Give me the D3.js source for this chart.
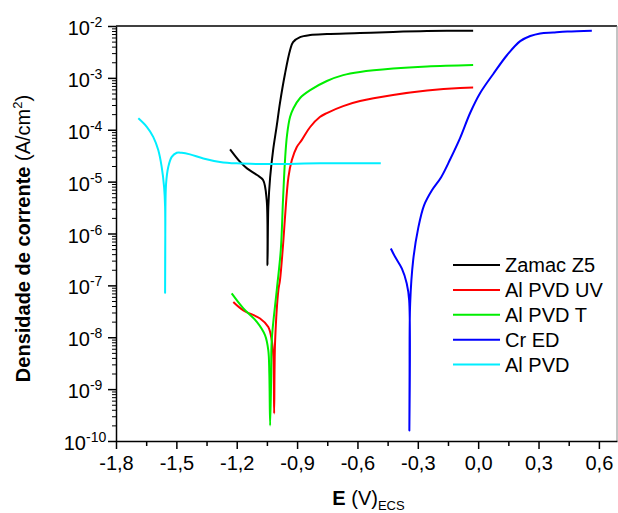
<!DOCTYPE html>
<html>
<head>
<meta charset="utf-8">
<script src="https://cdn.jsdelivr.net/npm/d3@7"></script>
<style>
  body { margin: 0; background: #fff; }
  svg { font-family: "Liberation Sans", Arial, sans-serif; }
</style>
</head>
<body>
<div id="chart"></div>
<script>
// Potential (V vs ECS) and current density (A/cm2)
const zamacE = [-1.233, -1.183, -1.149, -1.099, -1.069, -1.051, -1.047, -1.043, -1.034, -1.019, -1.001, -0.985, -0.960, -0.935, -0.920, -0.885, -0.835, -0.751, -0.587, -0.423, -0.254, -0.025];
const zamacI = [4.2e-5, 2.4e-5, 1.8e-5, 1.34e-5, 1.07e-5, 4.4e-6, 2.45e-7, 3.2e-6, 1.2e-5, 4.1e-5, 1.2e-4, 3.3e-4, 1.2e-3, 3.4e-3, 4.9e-3, 6.1e-3, 6.7e-3, 7.0e-3, 7.3e-3, 7.7e-3, 8.0e-3, 8.1e-3];

const pvdUvE = [-1.217, -1.167, -1.084, -1.043, -1.026, -1.018, -1.014, -1.012, -1.009, -0.993, -0.985, -0.968, -0.960, -0.943, -0.926, -0.902, -0.877, -0.835, -0.787, -0.752, -0.671, -0.587, -0.423, -0.254, -0.090, -0.025];
const pvdUvI = [4.8e-8, 3.3e-8, 2.3e-8, 1.58e-8, 8.8e-9, 4.2e-9, 3.4e-10, 2.3e-9, 8.8e-9, 8.1e-8, 1.26e-7, 7.4e-7, 2.07e-6, 1.22e-5, 2.6e-5, 4.6e-5, 6.3e-5, 1.13e-4, 1.76e-4, 2.1e-4, 2.86e-4, 3.57e-4, 4.67e-4, 5.7e-4, 6.4e-4, 6.5e-4];

const pvdTE = [-1.225, -1.167, -1.100, -1.059, -1.043, -1.038, -1.034, -1.029, -1.026, -1.001, -0.981, -0.970, -0.960, -0.950, -0.935, -0.918, -0.885, -0.835, -0.752, -0.671, -0.587, -0.423, -0.254, -0.025];
const pvdTI = [7.0e-8, 3.6e-8, 1.98e-8, 1.09e-8, 5.6e-9, 2.0e-9, 2.0e-10, 1.5e-9, 8.8e-9, 8.1e-8, 4.8e-7, 4.4e-6, 2.6e-5, 7.9e-5, 1.76e-4, 2.6e-4, 4.1e-4, 5.8e-4, 8.7e-4, 1.13e-3, 1.3e-3, 1.51e-3, 1.66e-3, 1.77e-3];

const crE = [-0.434, -0.413, -0.379, -0.355, -0.343, -0.342, -0.341, -0.338, -0.323, -0.298, -0.269, -0.229, -0.184, -0.139, -0.090, -0.040, 0.010, 0.075, 0.144, 0.209, 0.259, 0.308, 0.373, 0.443, 0.565];
const crI = [5.15e-7, 3.55e-7, 2.1e-7, 1.09e-7, 5.2e-8, 1.6e-10, 1.5e-9, 4.5e-8, 3.06e-7, 1.27e-6, 3.5e-6, 6.9e-6, 1.22e-5, 2.7e-5, 6.9e-5, 2.1e-4, 5.1e-4, 1.19e-3, 2.76e-3, 5.1e-3, 6.4e-3, 7.2e-3, 7.5e-3, 7.8e-3, 8.1e-3];

const pvdE = [-1.689, -1.647, -1.615, -1.590, -1.573, -1.561, -1.556, -1.556, -1.555, -1.551, -1.540, -1.523, -1.498, -1.473, -1.432, -1.366, -1.283, -1.200, -1.034, -0.786, -0.484];
const pvdI = [1.66e-4, 1.14e-4, 7.3e-5, 4.06e-5, 1.93e-5, 7.9e-6, 3.3e-6, 7.2e-8, 1.0e-6, 9.2e-6, 1.93e-5, 3.0e-5, 3.6e-5, 3.6e-5, 3.35e-5, 2.8e-5, 2.4e-5, 2.25e-5, 2.18e-5, 2.25e-5, 2.25e-5];

const seriesNames = ['Zamac Z5', 'Al PVD UV', 'Al PVD T', 'Cr ED', 'Al PVD'];
const seriesColors = ['#000000', '#ff0000', '#00ee00', '#0000ff', '#00eeff'];

const xTicks = [-1.8, -1.5, -1.2, -0.9, -0.6, -0.3, 0.0, 0.3, 0.6];
const yExponents = [-10, -9, -8, -7, -6, -5, -4, -3, -2];

const series = [
  { E: zamacE, I: zamacI },
  { E: pvdUvE, I: pvdUvI },
  { E: pvdTE, I: pvdTI },
  { E: crE, I: crI },
  { E: pvdE, I: pvdI },
].map((s, k) => ({
  name: seriesNames[k],
  color: seriesColors[k],
  points: s.E.map((e, j) => ({ e: e, i: s.I[j] })),
}));

// Plot area
const W = 618, H = 513;
const plotL = 116, plotR = 617, plotT = 26, plotB = 441;

const svg = d3.select('#chart').append('svg').attr('width', W).attr('height', H);

const x = d3.scaleLinear().domain([-1.8, 0.69]).range([plotL, plotR]);
const y = d3.scaleLog().domain([1e-10, 1e-2]).range([plotB, plotT]);

// Frame (top and right)
svg.append('line').attr('x1', plotL).attr('x2', plotR).attr('y1', plotT).attr('y2', plotT)
  .attr('stroke', '#000').attr('stroke-width', 1.5);
svg.append('line').attr('x1', plotR).attr('x2', plotR).attr('y1', plotT).attr('y2', plotB)
  .attr('stroke', '#888').attr('stroke-width', 1);

// X axis: major and minor ticks
const fmtComma = (d) => (d < 0 ? '-' : '') + Math.abs(d).toFixed(1).replace('.', ',');
const xMinor = xTicks.slice(0, -1).map((d) => d + 0.15);

const xAxisG = svg.append('g').attr('transform', `translate(0,${plotB})`)
  .call(d3.axisBottom(x).tickValues(xTicks).tickSize(8).tickSizeOuter(0).tickFormat(fmtComma));
xAxisG.select('.domain').attr('stroke-width', 1.5);
xAxisG.selectAll('.tick line').attr('stroke-width', 1.5);
xAxisG.selectAll('.tick text').attr('font-size', 20).attr('fill', '#000').attr('dy', null).attr('y', 29);
svg.append('g').attr('transform', `translate(0,${plotB})`)
  .call(d3.axisBottom(x).tickValues(xMinor).tickSize(5).tickFormat(''))
  .call((g) => g.select('.domain').remove())
  .selectAll('.tick line').attr('stroke-width', 1.5);

// Y axis: decades plus log minor ticks
const yMajor = yExponents.map((p) => Math.pow(10, p));
const yMinor = [];
yExponents.slice(0, -1).forEach((p) => {
  for (let m = 2; m <= 9; m++) yMinor.push(m * Math.pow(10, p));
});

const yAxisG = svg.append('g').attr('transform', `translate(${plotL},0)`)
  .call(d3.axisLeft(y).tickValues(yMajor).tickSize(8).tickSizeOuter(0).tickFormat(''));
yAxisG.select('.domain').attr('stroke-width', 1.5);
yAxisG.selectAll('.tick line').attr('stroke-width', 1.5);
svg.append('g').attr('transform', `translate(${plotL},0)`)
  .call(d3.axisLeft(y).tickValues(yMinor).tickSize(4).tickFormat(''))
  .call((g) => g.select('.domain').remove())
  .selectAll('.tick line').attr('stroke-width', 1);

// Decade labels as 10 with superscript exponent
const yLabels = svg.append('g').selectAll('text').data(yExponents).enter().append('text')
  .attr('x', 85).attr('y', (p) => y(Math.pow(10, p)) + 9)
  .attr('text-anchor', 'middle').attr('font-size', 20);
yLabels.append('tspan').text('10');
yLabels.append('tspan').attr('font-size', 14).attr('dy', -8).text((p) => '-' + Math.abs(p));

// Curves
const line = d3.line().x((d) => x(d.e)).y((d) => y(d.i)).curve(d3.curveCatmullRom.alpha(0.5));
svg.append('g').selectAll('path').data(series).enter().append('path')
  .attr('d', (s) => line(s.points))
  .attr('fill', 'none')
  .attr('stroke', (s) => s.color)
  .attr('stroke-width', 2)
  .attr('stroke-linejoin', 'round');

// Axis titles
const yTitle = svg.append('text')
  .attr('transform', `translate(30,${(plotT + plotB) / 2 + 5}) rotate(-90)`)
  .attr('text-anchor', 'middle').attr('font-size', 20);
yTitle.append('tspan').attr('font-weight', 'bold').text('Densidade de corrente ');
yTitle.append('tspan').text('(A/cm');
yTitle.append('tspan').attr('font-size', 13).attr('dy', -8).text('2');
yTitle.append('tspan').attr('dy', 8).text(')');

const xTitle = svg.append('text')
  .attr('x', (plotL + plotR) / 2 + 2).attr('y', 505)
  .attr('text-anchor', 'middle').attr('font-size', 20);
xTitle.append('tspan').attr('font-weight', 'bold').text('E');
xTitle.append('tspan').text(' (V)');
xTitle.append('tspan').attr('font-size', 13).attr('dy', 5).text('ECS');

// Legend
const legend = svg.append('g').selectAll('g').data(series).enter().append('g')
  .attr('transform', (s, k) => `translate(453,${265 + k * 24.9})`);
legend.append('line').attr('x1', 0).attr('x2', 47)
  .attr('stroke', (s) => s.color).attr('stroke-width', 2);
legend.append('text').attr('x', 52).attr('y', 7).attr('font-size', 20).text((s) => s.name);
</script>
</body>
</html>
